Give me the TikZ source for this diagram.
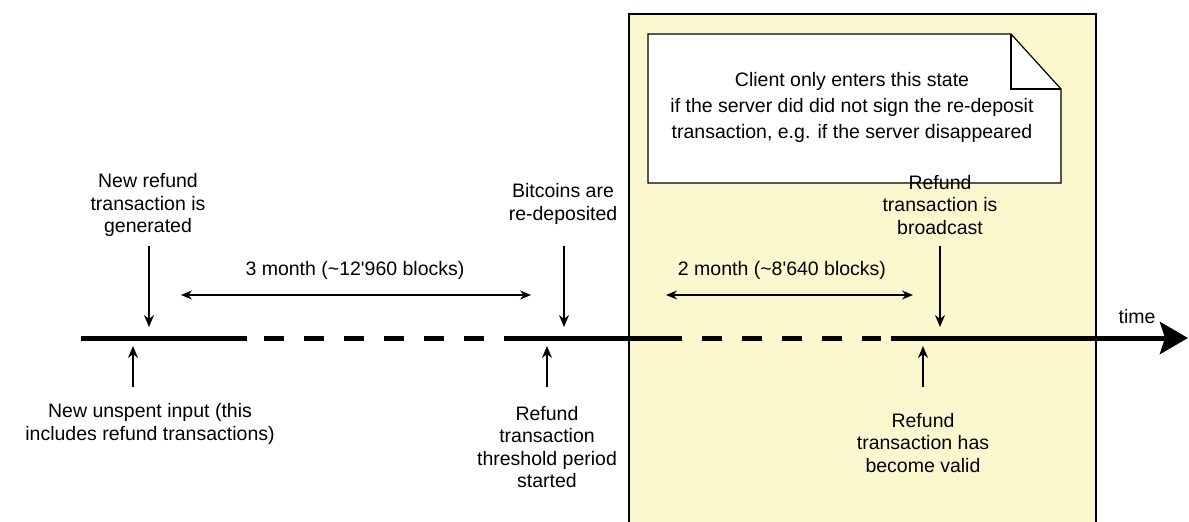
\documentclass[tikz,border=0pt]{standalone}
\usepackage{fontspec}
\setmainfont{Liberation Sans}
\newfontfamily\plainsans{Liberation Sans}
\usetikzlibrary{arrows.meta,shapes.misc}
\definecolor{stateyellow}{RGB}{252,248,206}
\begin{document}
\begin{tikzpicture}[x=1pt,y=-1pt,
  lbl/.style={align=center,font=\fontsize{19.5}{22.5}\selectfont,inner sep=0pt},
  notelbl/.style={align=center,font=\fontsize{19.5}{26}\selectfont,inner sep=0pt},
  tick/.style={-{Stealth[length=12pt,width=10pt]},line width=1.2pt},
  span/.style={{Stealth[length=11pt,width=9pt]}-{Stealth[length=11pt,width=9pt]},line width=1.2pt},
  tline/.style={line width=5pt},
  tdash/.style={line width=5pt,dash pattern=on 20pt off 20pt}]
\useasboundingbox (0,0) rectangle (1189,522);
\begin{scope}
\clip (0,0) rectangle (1189,522);
\draw[fill=stateyellow,line width=1.2pt] (629,14) rectangle (1096,540);
\end{scope}
% note
\draw[fill=white,line width=1.2pt] (648,34) -- (1011,34) -- (1061,89) -- (1061,183) -- (648,183) -- cycle;
\draw[line width=1.2pt] (1011,34) -- (1011,89) -- (1061,89);
\node[notelbl] (note) at (852,107) {Client only enters this state\\if the server did did not sign the re-deposit\\transaction, e.g. if the server disappeared};
% timeline
\coordinate (t0) at (81,338);
\coordinate (t1) at (247,338);
\coordinate (d1) at (264,338);
\coordinate (d2) at (484,338);
\coordinate (t2) at (504,338);
\coordinate (t3) at (682,338);
\coordinate (d3) at (702,338);
\coordinate (d4) at (881,338);
\coordinate (t4) at (891,338);
\coordinate (tend) at (1188,338);
\draw[tline] (t0) -- (t1);
\draw[tdash] (d1) -- (d2);
\draw[tline] (t2) -- (t3);
\draw[tdash] (d3) -- (d4);
\draw[tline,-{Stealth[length=28pt,width=32pt,inset=5pt]}] (t4) -- (tend);
\node[lbl] (time) at (1137,317) {time};
% top labels
\node[lbl] (gen) at (148,205) {New refund\\transaction is\\generated};
\node[lbl] (redep) at (563,204) {Bitcoins are\\re-deposited};
\node[lbl] (bcast) at (940,205) {Refund\\transaction is\\broadcast};
\coordinate (genA) at (149,327);
\coordinate (redepA) at (564,327);
\coordinate (bcastA) at (940,327);
\draw[tick] (149,246) -- (genA);
\draw[tick] (564,246) -- (redepA);
\draw[tick] (940,246) -- (bcastA);
% spans
\node[lbl] (m3) at (355,270) {\plainsans 3 month (\textasciitilde12'960 blocks)};
\node[lbl] (m2) at (782,270) {\plainsans 2 month (\textasciitilde8'640 blocks)};
\coordinate (s1a) at (181,295);
\coordinate (s1b) at (531,295);
\coordinate (s2a) at (666,295);
\coordinate (s2b) at (913,295);
\draw[span] (s1a) -- (s1b);
\draw[span] (s2a) -- (s2b);
% bottom labels
\node[lbl] (unspent) at (150,424) {New unspent input (this\\includes refund transactions)};
\node[lbl] (thresh) at (547,447) {Refund\\transaction\\threshold period\\started};
\node[lbl] (valid) at (923,443) {Refund\\transaction has\\become valid};
\coordinate (unspentA) at (133,346);
\coordinate (threshA) at (547,346);
\coordinate (validA) at (923,346);
\draw[tick] (133,387) -- (unspentA);
\draw[tick] (547,387) -- (threshA);
\draw[tick] (923,387) -- (validA);
\end{tikzpicture}
\end{document}
